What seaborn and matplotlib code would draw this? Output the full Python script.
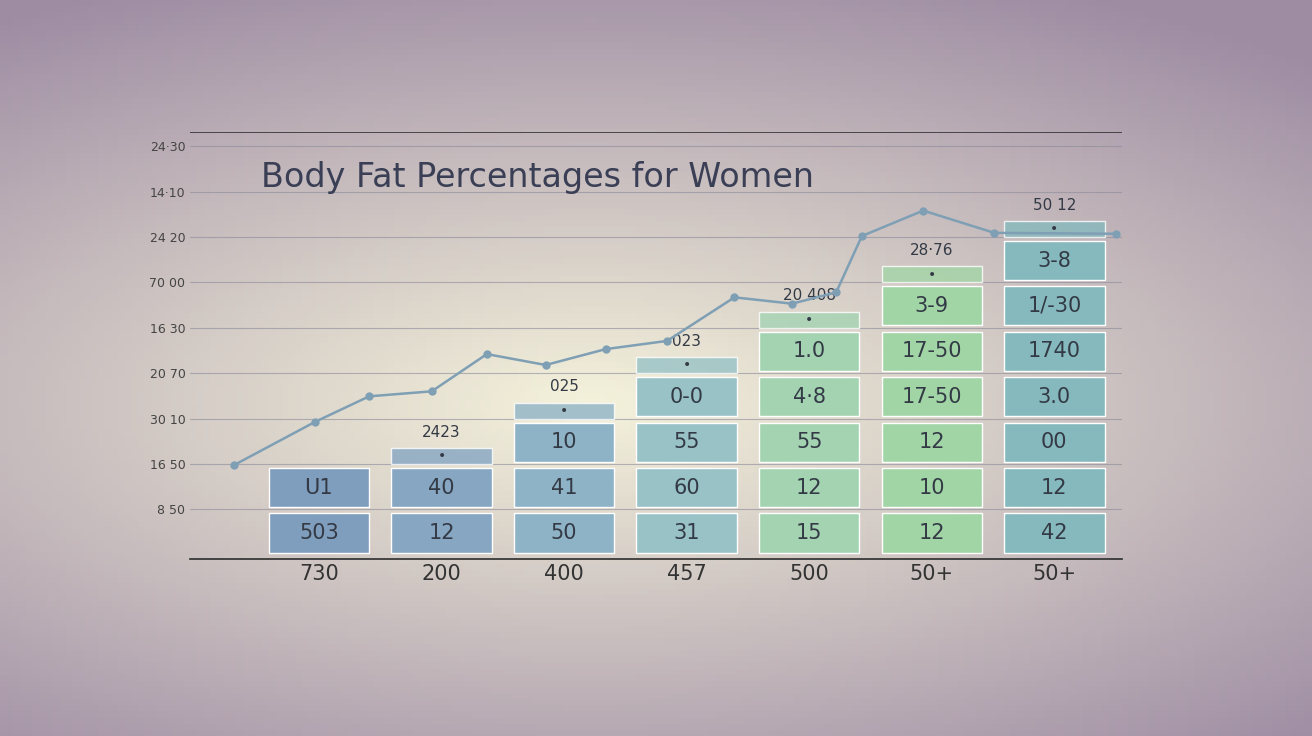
import numpy as np
import matplotlib.pyplot as plt
import seaborn as sns
import pandas as pd

sns.set_theme(style="white")

x_labels = ['730', '200', '400', '457', '500', '50+', '50+']
headers = ['', '2423', '025', '023', '20 408', '28·76', '50 12']
cells = [
    ['U1', '503'],
    ['40', '12'],
    ['10', '41', '50'],
    ['0-0', '55', '60', '31'],
    ['1.0', '4·8', '55', '12', '15'],
    ['3-9', '17-50', '17-50', '12', '10', '12'],
    ['3-8', '1/-30', '1740', '3.0', '00', '12', '42'],
]
y_tick_labels = ['8 50', '16 50', '30 10', '20 70', '16 30', '70 00', '24 20', '14·10', '24·30']
line_x = [-0.19, 0.47, 0.91, 1.42, 1.87, 2.35, 2.84, 3.34, 3.89, 4.36, 4.72, 4.93, 5.43, 6.01, 7.0]
line_y = [0.98, 1.93, 2.49, 2.6, 3.42, 3.18, 3.53, 3.71, 4.67, 4.53, 4.78, 6.02, 6.58, 6.09, 6.07]
col_colors = ['#7f9dbd', '#86a6c2', '#8fb3c6', '#98c2c6', '#a4d3b2', '#a2d5a6', '#86b9bd']

fig = plt.figure(figsize=(13.12, 7.36), dpi=100)
bg = fig.add_axes([0, 0, 1, 1])
gx, gy = np.meshgrid(np.linspace(0, 1, 200), np.linspace(0, 1, 120))
g = np.clip(1 - np.hypot((gx - 0.45) * 1.2, (gy - 0.55) * 1.6), 0, 1)
c1 = np.array([0.62, 0.55, 0.64])
c2 = np.array([0.96, 0.95, 0.86])
img = c1[None, None, :] * (1 - g[..., None]) + c2[None, None, :] * g[..., None]
bg.imshow(img, aspect='auto', extent=[0, 1, 0, 1])
bg.axis('off')

ax = fig.add_axes([0.145, 0.24, 0.71, 0.58])
ax.patch.set_alpha(0)
yt = np.arange(len(y_tick_labels))
for y in yt:
    ax.axhline(y, color='#8a8a9a', lw=0.8, alpha=0.6, zorder=0)

for i, col in enumerate(cells):
    n = len(col)
    for j, lab in enumerate(reversed(col)):
        b = -1 + j * 1.0
        ax.bar(i + 0.5, 0.86, bottom=b + 0.05, width=0.82, color=col_colors[i], zorder=2)
        ax.text(i + 0.5, b + 0.48, lab, ha='center', va='center', fontsize=15, color='#333a45', zorder=3)
    if headers[i]:
        top = -1 + n * 1.0
        ax.bar(i + 0.5, 0.35, bottom=top, width=0.82, color=col_colors[i], alpha=0.8, zorder=2)
        ax.text(i + 0.5, top + 0.17, '•', ha='center', va='center', fontsize=10, color='#333a45', zorder=3)
        ax.text(i + 0.5, top + 0.7, headers[i], ha='center', va='center', fontsize=11, color='#333a45', zorder=3)

df = pd.DataFrame({'x': line_x, 'y': line_y})
sns.lineplot(data=df, x='x', y='y', ax=ax, color='#7f9fb5', marker='o', markersize=6,
             markeredgewidth=0, lw=1.8, zorder=4)

ax.set_xlim(-0.55, 7.05)
ax.set_ylim(-1.1, 8.3)
ax.set_yticks(yt)
ax.set_yticklabels(y_tick_labels, fontsize=9, color='#444')
ax.set_xticks(np.arange(7) + 0.5)
ax.set_xticklabels(x_labels, fontsize=15, color='#333')
ax.tick_params(length=0)
ax.set_xlabel('')
ax.set_ylabel('')
for s in ['top', 'right', 'left']:
    ax.spines[s].set_visible(False)
ax.spines['bottom'].set_color('#333')
ax.axhline(8.3, color='#333', lw=1.2)
ax.text(0.03, 7.3, 'Body Fat Percentages for Women', fontsize=24, color='#3a3f55', va='center')

fig.savefig('out.png', dpi=100)
